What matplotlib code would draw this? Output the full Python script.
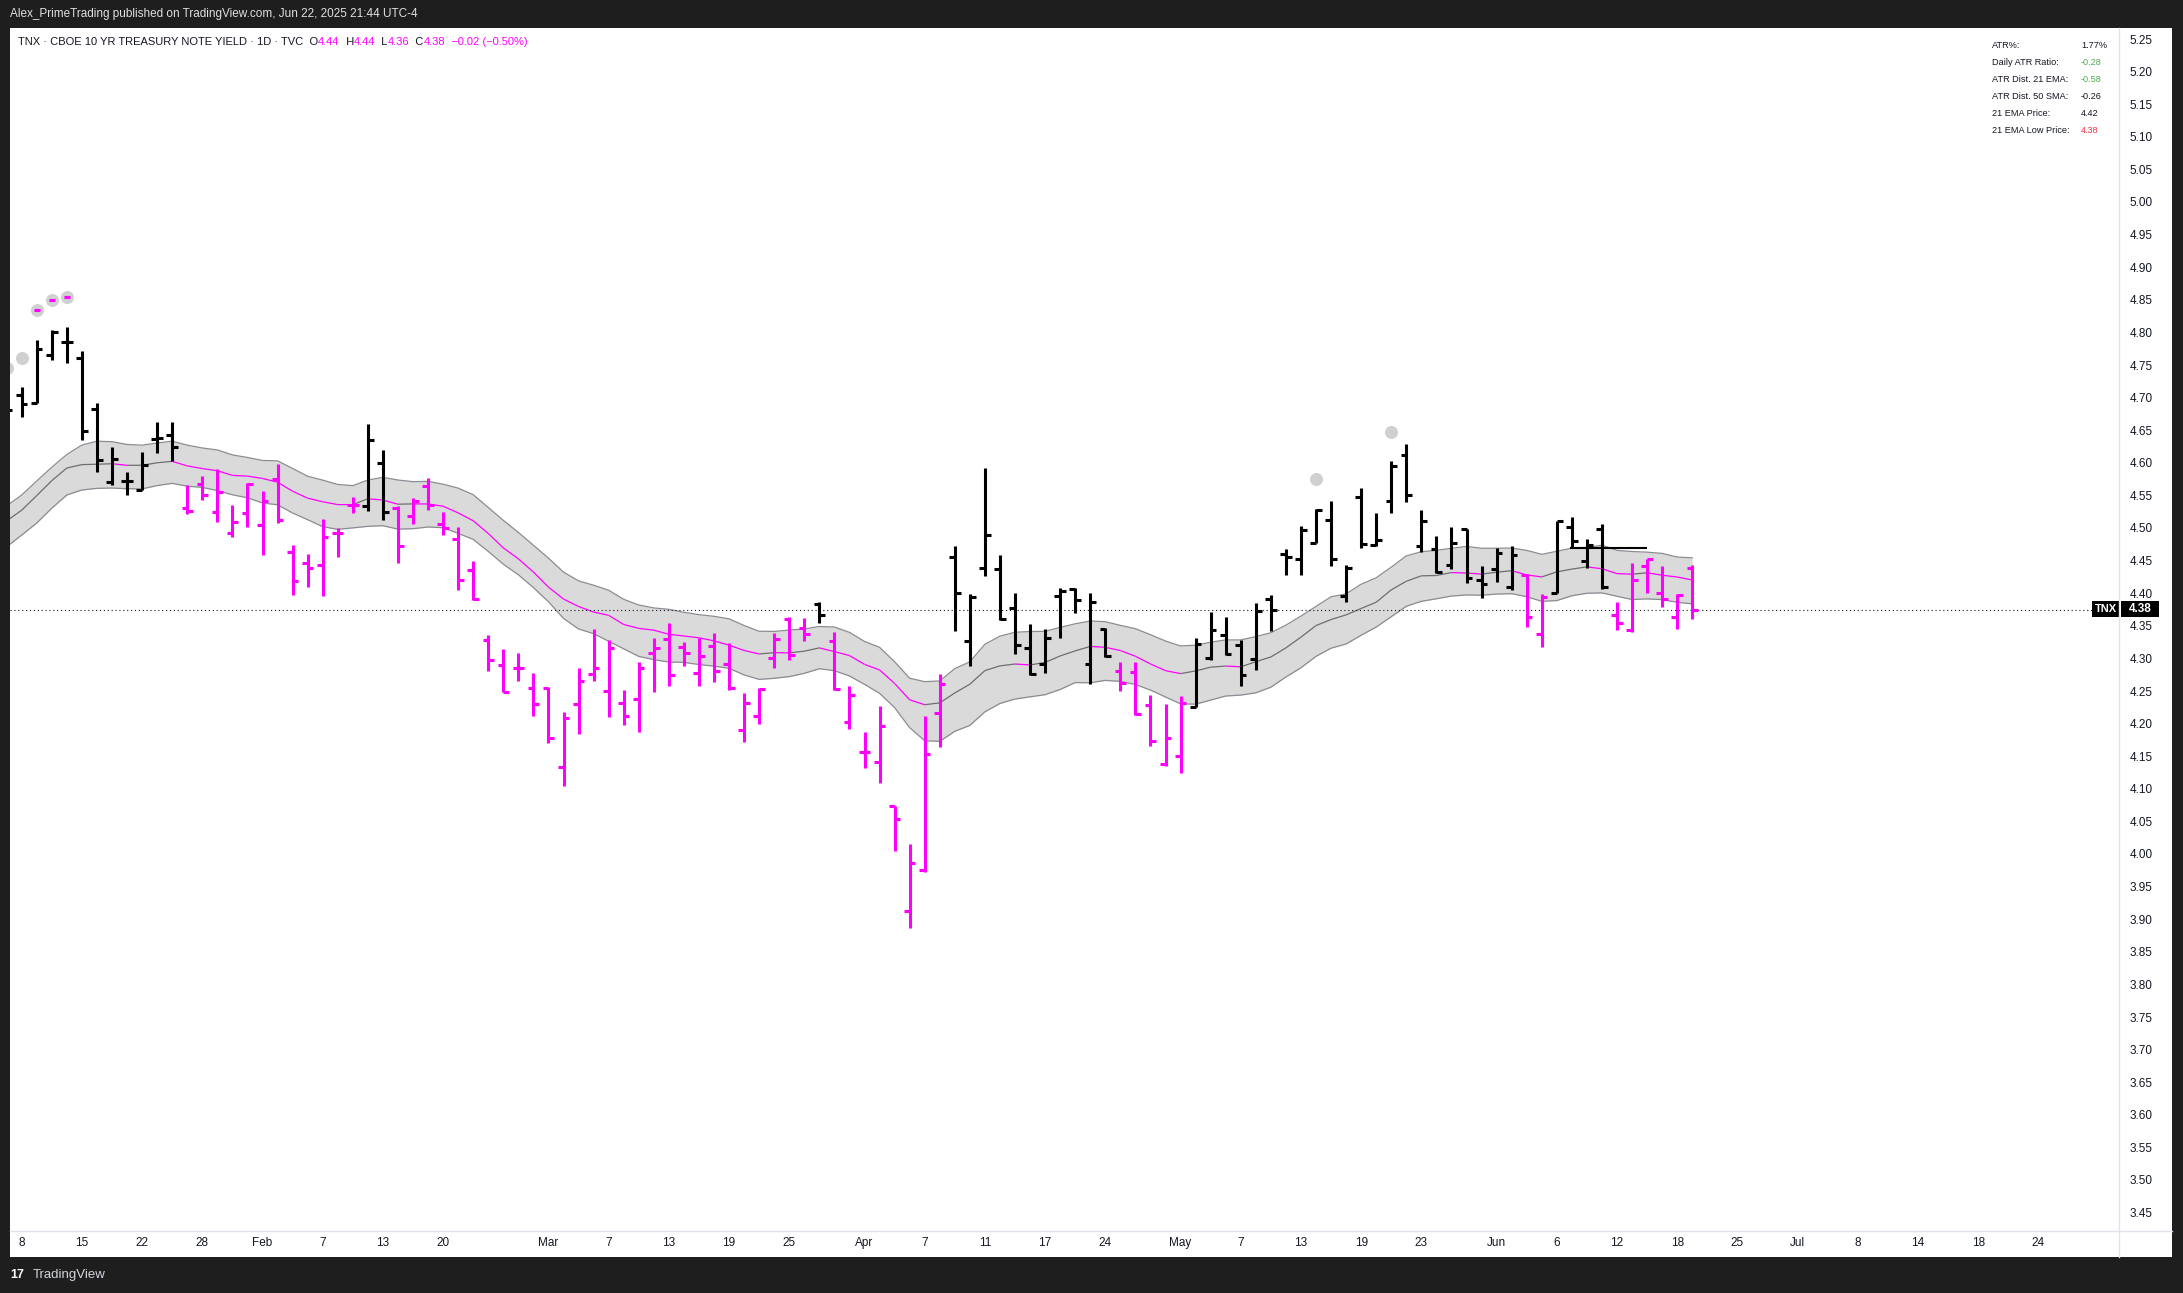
import numpy as np
import pandas as pd
import matplotlib
matplotlib.use("Agg")
import matplotlib.pyplot as plt
from matplotlib.collections import LineCollection
from matplotlib.patches import Rectangle
from matplotlib.lines import Line2D

# %% data (TNX daily, Jan 7 - Jun 20 2025)
closed_days = ["2025-01-09", "2025-01-20", "2025-02-17", "2025-04-18",
               "2025-05-26", "2025-06-19", "2025-07-04"]

opens = [4.640, 4.704, 4.692, 4.766, 4.786, 4.760, 4.682, 4.571, 4.572, 4.559, 4.637, 4.642,
         4.530, 4.568, 4.524, 4.492, 4.523, 4.505, 4.575, 4.463, 4.446, 4.443, 4.492, 4.535,
         4.534, 4.600, 4.530, 4.518, 4.564, 4.506, 4.483, 4.436, 4.328, 4.290, 4.285, 4.254,
         4.254, 4.133, 4.230, 4.276, 4.250, 4.231, 4.238, 4.308, 4.329, 4.317, 4.277, 4.319,
         4.292, 4.190, 4.211, 4.300, 4.360, 4.346, 4.383, 4.326, 4.202, 4.157, 4.141, 4.074,
         3.913, 3.976, 4.217, 4.456, 4.327, 4.438, 4.437, 4.378, 4.316, 4.292, 4.396, 4.406,
         4.292, 4.345, 4.281, 4.279, 4.228, 4.138, 4.150, 4.225, 4.300, 4.336, 4.321, 4.299,
         4.391, 4.460, 4.452, 4.477, 4.512, 4.395, 4.547, 4.474, 4.542, 4.612, 4.472, 4.468,
         4.443, 4.499, 4.420, 4.437, 4.409, 4.428, 4.337, 4.401, 4.501, 4.449, 4.498, 4.367,
         4.344, 4.441, 4.401, 4.363, 4.438]
highs = [4.705, 4.716, 4.788, 4.804, 4.808, 4.772, 4.692, 4.625, 4.586, 4.616, 4.663, 4.662,
         4.566, 4.579, 4.590, 4.536, 4.569, 4.557, 4.598, 4.474, 4.460, 4.514, 4.500, 4.547,
         4.659, 4.619, 4.533, 4.546, 4.576, 4.524, 4.501, 4.450, 4.336, 4.314, 4.308, 4.277,
         4.256, 4.218, 4.285, 4.345, 4.328, 4.251, 4.295, 4.332, 4.354, 4.325, 4.331, 4.339,
         4.323, 4.247, 4.254, 4.339, 4.364, 4.362, 4.387, 4.340, 4.258, 4.187, 4.227, 4.074,
         4.016, 4.212, 4.276, 4.473, 4.399, 4.592, 4.458, 4.400, 4.352, 4.345, 4.408, 4.408,
         4.400, 4.346, 4.294, 4.295, 4.244, 4.230, 4.243, 4.332, 4.371, 4.363, 4.328, 4.385,
         4.398, 4.468, 4.503, 4.529, 4.542, 4.443, 4.562, 4.523, 4.603, 4.629, 4.528, 4.487,
         4.501, 4.499, 4.441, 4.470, 4.472, 4.430, 4.399, 4.511, 4.517, 4.483, 4.506, 4.387,
         4.446, 4.453, 4.442, 4.399, 4.443]
lows = [4.625, 4.671, 4.692, 4.758, 4.753, 4.635, 4.586, 4.566, 4.550, 4.558, 4.615, 4.603,
        4.521, 4.543, 4.509, 4.486, 4.501, 4.459, 4.507, 4.397, 4.410, 4.396, 4.456, 4.523,
        4.526, 4.513, 4.446, 4.506, 4.527, 4.490, 4.405, 4.389, 4.281, 4.248, 4.266, 4.212,
        4.170, 4.105, 4.184, 4.266, 4.210, 4.198, 4.187, 4.249, 4.257, 4.289, 4.257, 4.264,
        4.252, 4.172, 4.200, 4.286, 4.298, 4.327, 4.355, 4.251, 4.192, 4.132, 4.109, 4.005,
        3.886, 3.973, 4.164, 4.342, 4.288, 4.426, 4.359, 4.306, 4.275, 4.277, 4.332, 4.369,
        4.260, 4.302, 4.250, 4.213, 4.165, 4.135, 4.125, 4.225, 4.298, 4.305, 4.258, 4.282,
        4.342, 4.428, 4.428, 4.477, 4.441, 4.387, 4.470, 4.473, 4.523, 4.540, 4.463, 4.431,
        4.437, 4.415, 4.392, 4.417, 4.405, 4.348, 4.317, 4.400, 4.470, 4.438, 4.406, 4.344,
        4.340, 4.401, 4.379, 4.345, 4.360]
closes = [4.681, 4.690, 4.775, 4.801, 4.786, 4.649, 4.604, 4.606, 4.572, 4.597, 4.638, 4.624,
          4.526, 4.550, 4.555, 4.509, 4.568, 4.541, 4.512, 4.419, 4.438, 4.486, 4.492, 4.535,
          4.635, 4.524, 4.472, 4.542, 4.535, 4.500, 4.420, 4.391, 4.297, 4.248, 4.285, 4.230,
          4.178, 4.208, 4.265, 4.286, 4.316, 4.212, 4.286, 4.316, 4.274, 4.308, 4.304, 4.280,
          4.254, 4.231, 4.253, 4.329, 4.305, 4.337, 4.367, 4.253, 4.244, 4.156, 4.197, 4.054,
          3.986, 4.153, 4.260, 4.400, 4.394, 4.490, 4.361, 4.320, 4.276, 4.332, 4.403, 4.390,
          4.386, 4.304, 4.263, 4.215, 4.174, 4.178, 4.231, 4.322, 4.344, 4.306, 4.275, 4.373,
          4.375, 4.456, 4.497, 4.528, 4.452, 4.438, 4.475, 4.482, 4.595, 4.550, 4.510, 4.432,
          4.477, 4.423, 4.414, 4.461, 4.458, 4.363, 4.394, 4.510, 4.480, 4.474, 4.409, 4.355,
          4.421, 4.452, 4.391, 4.397, 4.375]
# 1 = bar painted magenta (below-band state), 0 = black
bear_state = [0] * 12 + [1] * 12 + [0] * 2 + [1] * 28 + [0] + [1] * 8 + [0] * 11 + \
             [1] * 5 + [0] * 22 + [1] * 2 + [0] * 4 + [1] * 6

# 21 EMA of high / close / low at the first visible bar
ema_seed = {"high": 4.534, "close": 4.511, "low": 4.471}

marker_dates = ["2025-01-07", "2025-01-08", "2025-01-10", "2025-01-13", "2025-01-14",
                "2025-05-14", "2025-05-21"]
marker_prices = [4.745, 4.760, 4.834, 4.850, 4.855, 4.575, 4.648]
marker_dash = [False, False, True, True, True, False, False]

level_price = 4.47
level_from, level_to = "2025-06-09", "2025-06-16"

tick_dates = ["2025-01-08", "2025-01-15", "2025-01-22", "2025-01-28", "2025-02-03",
              "2025-02-07", "2025-02-13", "2025-02-20", "2025-03-03", "2025-03-07",
              "2025-03-13", "2025-03-19", "2025-03-25", "2025-04-01", "2025-04-07",
              "2025-04-11", "2025-04-17", "2025-04-24", "2025-05-01", "2025-05-07",
              "2025-05-13", "2025-05-19", "2025-05-23", "2025-06-02", "2025-06-06",
              "2025-06-12", "2025-06-18", "2025-06-25", "2025-07-01", "2025-07-08",
              "2025-07-14", "2025-07-18", "2025-07-24"]
tick_labels = ["8", "15", "22", "28", "Feb", "7", "13", "20", "Mar", "7", "13", "19", "25",
               "Apr", "7", "11", "17", "24", "May", "7", "13", "19", "23", "Jun", "6", "12",
               "18", "25", "Jul", "8", "14", "18", "24"]

table_labels = ["ATR%:", "Daily ATR Ratio:", "ATR Dist. 21 EMA:", "ATR Dist. 50 SMA:",
                "21 EMA Price:", "21 EMA Low Price:"]
table_values = ["1.77%", "-0.28", "-0.58", "-0.26", "4.42", "4.38"]
table_colors = ["#131722", "#4caf50", "#4caf50", "#131722", "#131722", "#f23645"]

# %% calendar
cal = pd.bdate_range("2025-01-07", "2025-07-31")
cal = cal[~cal.isin(pd.to_datetime(closed_days))]
last_bar = pd.Timestamp("2025-06-20")
n = len(closes)
assert (cal <= last_bar).sum() == n
pos = {d: i for i, d in enumerate(cal)}
def xi(d):
    return pos[pd.Timestamp(d)]

x = np.arange(n)
o, h, l, c = map(np.array, (opens, highs, lows, closes))

def ema(vals, seed, span=21):
    a = 2 / (span + 1)
    out = [seed]
    for v in vals[1:]:
        out.append(out[-1] + a * (v - out[-1]))
    return np.array(out)

ema_h = ema(h, ema_seed["high"])
ema_c = ema(c, ema_seed["close"])
ema_l = ema(l, ema_seed["low"])

# %% figure
W, H = 2183, 1293
plt.rcParams['font.family'] = ['Liberation Sans', 'DejaVu Sans']
fig = plt.figure(figsize=(W / 100, H / 100), dpi=100, facecolor='#1e1e1e')

def fx(px):
    return px / W
def fy(py):
    return 1 - py / H

fig.add_artist(Rectangle((fx(10), fy(1257)), fx(2172) - fx(10), fy(28) - fy(1257),
                         transform=fig.transFigure, fc='white', ec='none', zorder=-5))

ax = fig.add_axes([fx(10), fy(1231), fx(2119) - fx(10), fy(28) - fy(1231)])
ax.set_facecolor('none')
for s in ax.spines.values():
    s.set_visible(False)

PINK = '#ff00ff'
# band
ax.fill_between(x, ema_l, ema_h, color='#dadada', lw=0, zorder=1)
ax.plot(x, ema_h, color='#8b8b93', lw=0.9, zorder=2)
ax.plot(x, ema_l, color='#8b8b93', lw=0.9, zorder=2)
segs = [[(x[i - 1], ema_c[i - 1]), (x[i], ema_c[i])] for i in range(1, n)]
seg_cols = [PINK if c[i] < ema_c[i] else '#6e6e6e' for i in range(1, n)]
ax.add_collection(LineCollection(segs, colors=seg_cols, linewidths=0.9, zorder=2))

# ohlc bars
bar_cols = [PINK if s else 'black' for s in bear_state]
lw = 2.2
tk = 0.38
ax.vlines(x, l, h, colors=bar_cols, lw=lw, zorder=4, capstyle='butt')
ax.hlines(o, x - tk, x, colors=bar_cols, lw=lw, zorder=4)
ax.hlines(c, x, x + tk, colors=bar_cols, lw=lw, zorder=4)

# markers
mx = [xi(d) for d in marker_dates]
ax.scatter(mx, marker_prices, s=88, color='#d0d0d0', lw=0, zorder=3)
dx = [m for m, dsh in zip(mx, marker_dash) if dsh]
dy = [p for p, dsh in zip(marker_prices, marker_dash) if dsh]
ax.plot(dx, dy, ls='none', marker='_', ms=5, mew=2.2, color=PINK, zorder=5)

ax.hlines(level_price, xi(level_from) - 0.1, xi(level_to), colors='black', lw=1.5, zorder=5)
ax.axhline(c[-1], color='#131722', lw=0.8, ls=(0, (1, 2.5)), zorder=3)

ax.set_xlim((10 - 6.65) / 15.05, (2119 - 6.65) / 15.05)
ax.set_ylim(5.25 - (1231 - 39) / 652, 5.25 - (28 - 39) / 652)

ax.set_xticks([xi(d) for d in tick_dates], tick_labels)
ax.tick_params(axis='x', length=0, pad=4, labelsize=8.5, labelcolor='#131722')
ax.yaxis.tick_right()
yt = np.round(np.arange(3.45, 5.2501, 0.05), 2)
ax.set_yticks(yt, [f"{v:.2f}" for v in yt])
ax.tick_params(axis='y', length=0, pad=7.5, labelsize=8.5, labelcolor='#131722')

# separators
fig.add_artist(Line2D([fx(2119), fx(2119)], [fy(28), fy(1257)], color='#e0e3eb', lw=1))
fig.add_artist(Line2D([fx(10), fx(2172)], [fy(1231), fy(1231)], color='#e0e3eb', lw=1))

# last price tags
fig.add_artist(Rectangle((fx(2092), fy(617)), fx(2119) - fx(2092), fy(601) - fy(617),
                         transform=fig.transFigure, fc='black', ec='none'))
fig.add_artist(Rectangle((fx(2121), fy(617)), fx(2159) - fx(2121), fy(601) - fy(617),
                         transform=fig.transFigure, fc='black', ec='none'))
fig.text(fx(2105.5), fy(609), "TNX", color='white', fontsize=8, ha='center', va='center',
         fontweight='bold')
fig.text(fx(2140), fy(609), "4.38", color='white', fontsize=8.5, ha='center', va='center',
         fontweight='bold')

# header and legend
fig.text(fx(10), fy(14), "Alex_PrimeTrading published on TradingView.com, Jun 22, 2025 21:44 UTC-4",
         color='#e0e0e0', fontsize=8.5, va='center')
r = fig.canvas.get_renderer()
pieces = [("TNX · CBOE 10 YR TREASURY NOTE YIELD · 1D · TVC  O", '#131722'), ("4.44", PINK),
          ("  H", '#131722'), ("4.44", PINK), ("  L", '#131722'), ("4.36", PINK),
          ("  C", '#131722'), ("4.38", PINK), ("  −0.02 (−0.50%)", PINK)]
cx = fx(18)
for txt, col in pieces:
    t = fig.text(cx, fy(42), txt, color=col, fontsize=8, va='center')
    bb = t.get_window_extent(renderer=r)
    cx = bb.x1 / W

# indicator table
for k, (lab, val, col) in enumerate(zip(table_labels, table_values, table_colors)):
    yy = fy(46 + k * 16.9)
    fig.text(fx(1992), yy, lab, color='#131722', fontsize=6.6, va='center')
    fig.text(fx(2081), yy, val, color=col, fontsize=6.6, va='center')

# footer
fig.text(fx(10), fy(1275), "17", color='white', fontsize=9, fontweight='bold', va='center')
fig.text(fx(33), fy(1275), "TradingView", color='#d1d4dc', fontsize=9.5, va='center')

fig.savefig("out.png", dpi=100, facecolor=fig.get_facecolor())
